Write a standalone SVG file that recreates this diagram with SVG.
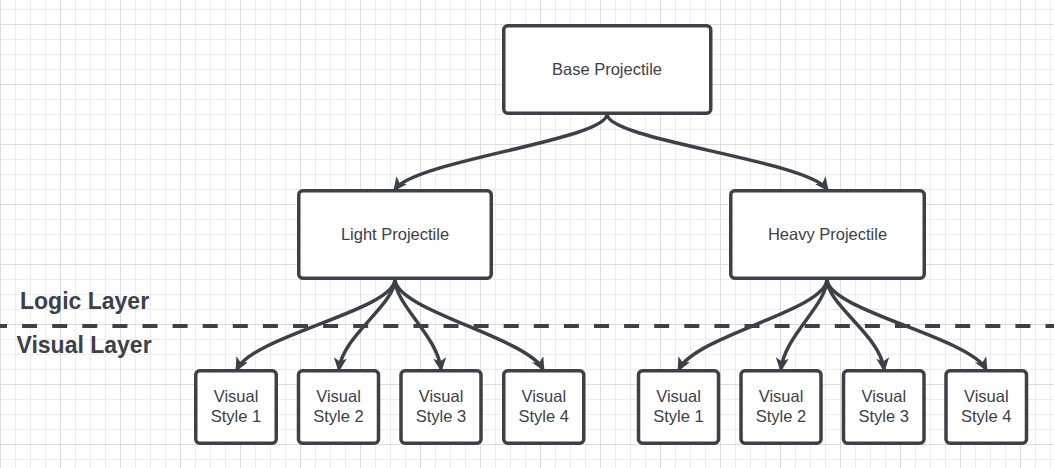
<svg xmlns="http://www.w3.org/2000/svg" width="1054" height="468" viewBox="0 0 1054 468">
  <style>
    .box { fill: #ffffff; stroke: #3b4049; stroke-width: 3.5; }
    .lbl { font-family: "Liberation Sans", Arial, sans-serif; font-size: 16.5px; fill: #3b4049; text-anchor: middle; }
    .layer { font-family: "Liberation Sans", Arial, sans-serif; font-size: 23px; font-weight: bold; fill: #3b4049; }
    .conn { fill: none; stroke: #3b4049; stroke-width: 3.5; marker-end: url(#arrow); }
  </style>
  <defs>
    <pattern id="minor" width="15" height="15" x="0" y="9" patternUnits="userSpaceOnUse">
      <path d="M0 0.5 H15 M0.5 0 V15" fill="none" stroke="#ececec" stroke-width="1"/>
    </pattern>
    <pattern id="major" width="60" height="60" x="0" y="24" patternUnits="userSpaceOnUse">
      <path d="M0 0.5 H60 M0.5 0 V60" fill="none" stroke="#dcdcdc" stroke-width="1"/>
    </pattern>
    <marker id="arrow" markerUnits="userSpaceOnUse" markerWidth="14" markerHeight="13" refX="11" refY="6.5" orient="auto" overflow="visible">
      <path d="M0,0 L14,6.5 L0,13 L3.5,6.5 z" fill="#3b4049"/>
    </marker>
  </defs>

  <rect width="1054" height="468" fill="#ffffff"/>
  <rect width="1054" height="468" fill="url(#minor)"/>
  <rect width="1054" height="468" fill="url(#major)"/>

  <line x1="-8" y1="326" x2="1060" y2="326" stroke="#3b4049" stroke-width="4" stroke-dasharray="15 15.1"/>
  <text class="layer" x="20" y="309">Logic Layer</text>
  <text class="layer" x="16.5" y="353">Visual Layer</text>

  <g id="connectors">
    <path class="conn" d="M607,114 C607,140 417,160 395,189"/>
    <path class="conn" d="M607,114 C607,140 805,160 827,189"/>
    <path class="conn" d="M395,279 C395,310 255,335 237,369"/>
    <path class="conn" d="M395,279 C395,305 343,335 339,369"/>
    <path class="conn" d="M395,279 C395,305 437,335 441,369"/>
    <path class="conn" d="M395,279 C395,310 525,337 543,369"/>
    <path class="conn" d="M827,279 C827,310 697,335 679,369"/>
    <path class="conn" d="M827,279 C827,305 785,335 781,369"/>
    <path class="conn" d="M827,279 C827,305 880,335 884,369"/>
    <path class="conn" d="M827,279 C827,310 968,337 986,369"/>
  </g>

  <g id="base">
    <rect class="box" x="503.75" y="25.75" width="207" height="87.5" rx="4"/>
    <text class="lbl" x="607" y="75">Base Projectile</text>
  </g>
  <g id="light">
    <rect class="box" x="298.75" y="190.75" width="192.5" height="87.5" rx="4"/>
    <text class="lbl" x="395" y="240">Light Projectile</text>
  </g>
  <g id="heavy">
    <rect class="box" x="730.75" y="190.75" width="193.5" height="87.5" rx="4"/>
    <text class="lbl" x="827.5" y="240">Heavy Projectile</text>
  </g>

  <g id="light-style-1">
    <rect class="box" x="195.75" y="370.75" width="80.5" height="72.5" rx="4"/>
    <text class="lbl" x="236" y="402">Visual</text><text class="lbl" x="236" y="422">Style 1</text>
  </g>
  <g id="light-style-2">
    <rect class="box" x="298.5" y="370.75" width="80" height="72.5" rx="4"/>
    <text class="lbl" x="338.5" y="402">Visual</text><text class="lbl" x="338.5" y="422">Style 2</text>
  </g>
  <g id="light-style-3">
    <rect class="box" x="401" y="370.75" width="80" height="72.5" rx="4"/>
    <text class="lbl" x="441" y="402">Visual</text><text class="lbl" x="441" y="422">Style 3</text>
  </g>
  <g id="light-style-4">
    <rect class="box" x="503.75" y="370.75" width="80" height="72.5" rx="4"/>
    <text class="lbl" x="543.75" y="402">Visual</text><text class="lbl" x="543.75" y="422">Style 4</text>
  </g>

  <g id="heavy-style-1">
    <rect class="box" x="638.5" y="370.75" width="80" height="72.5" rx="4"/>
    <text class="lbl" x="678.5" y="402">Visual</text><text class="lbl" x="678.5" y="422">Style 1</text>
  </g>
  <g id="heavy-style-2">
    <rect class="box" x="741" y="370.75" width="80" height="72.5" rx="4"/>
    <text class="lbl" x="781" y="402">Visual</text><text class="lbl" x="781" y="422">Style 2</text>
  </g>
  <g id="heavy-style-3">
    <rect class="box" x="843.5" y="370.75" width="80.5" height="72.5" rx="4"/>
    <text class="lbl" x="883.75" y="402">Visual</text><text class="lbl" x="883.75" y="422">Style 3</text>
  </g>
  <g id="heavy-style-4">
    <rect class="box" x="946" y="370.75" width="80.5" height="72.5" rx="4"/>
    <text class="lbl" x="986.25" y="402">Visual</text><text class="lbl" x="986.25" y="422">Style 4</text>
  </g>
</svg>
